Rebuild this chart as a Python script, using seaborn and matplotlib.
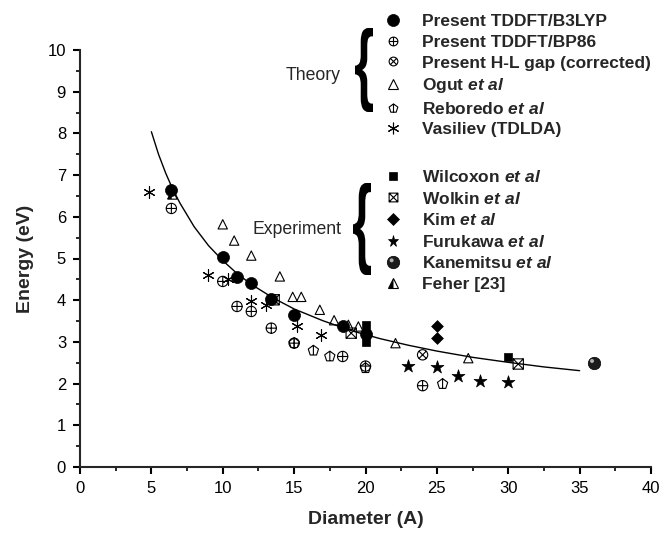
import numpy as np
import matplotlib
matplotlib.use("Agg")
import matplotlib.pyplot as plt
import seaborn as sns
from matplotlib.path import Path
from matplotlib.lines import Line2D
from matplotlib.legend_handler import HandlerTuple
from matplotlib.textpath import TextPath
from matplotlib.font_manager import FontProperties
from matplotlib.patches import PathPatch
from matplotlib.transforms import Affine2D, IdentityTransform

# values
b3lyp_d = [6.4, 10, 11, 12, 13.4, 15, 18.4, 20]
b3lyp_e = [6.65, 5.03, 4.55, 4.42, 4.04, 3.65, 3.39, 3.2]
bp86_d = [6.4, 10, 11, 12, 13.4, 15, 18.4, 20, 24]
bp86_e = [6.2, 4.45, 3.85, 3.73, 3.33, 2.97, 2.65, 2.42, 1.95]
hl_d = [24]
hl_e = [2.69]
ogut_d = [10, 10.8, 12, 14, 14.9, 15.5, 16.8, 17.8, 18.8, 19.5, 22.1, 27.2]
ogut_e = [5.82, 5.43, 5.07, 4.57, 4.08, 4.08, 3.77, 3.52, 3.41, 3.37, 2.97, 2.61]
rebo_d = [15, 16.35, 17.5, 20, 25.4]
rebo_e = [2.97, 2.79, 2.65, 2.37, 1.99]
vasi_d = [4.85, 9, 10.4, 12, 13, 15.2, 16.9]
vasi_e = [6.6, 4.6, 4.5, 3.97, 3.89, 3.38, 3.17]
wilc_d = [20, 20, 20, 30]
wilc_e = [3.0, 3.2, 3.4, 2.64]
wolk_d = [13.6, 19.0, 30.7]
wolk_e = [4.01, 3.21, 2.47]
kim_d = [25, 25]
kim_e = [3.39, 3.09]
furu_d = [23, 25, 26.5, 28, 30]
furu_e = [2.43, 2.41, 2.19, 2.07, 2.05]
kane_d = [36]
kane_e = [2.49]
feher_d = [6.43]
feher_e = [6.54]

# fitted curve, points
fit_d = [5, 5.5, 6, 6.5, 7, 8, 9, 10, 11, 12, 13.5, 15, 17, 19, 21, 23, 25, 27.5, 30, 32.5, 35]
fit_e = [8.04, 7.50, 7.05, 6.66, 6.33, 5.76, 5.31, 4.95, 4.64, 4.38, 4.06, 3.79, 3.51,
         3.27, 3.08, 2.92, 2.78, 2.63, 2.51, 2.40, 2.31]

theory_labels = ["Present TDDFT/B3LYP", "Present TDDFT/BP86", "Present H-L gap (corrected)",
                 r"Ogut $et\ al$", r"Reboredo $et\ al$", "Vasiliev (TDLDA)"]
expt_labels = [r"Wilcoxon $et\ al$", r"Wolkin $et\ al$", r"Kim $et\ al$",
               r"Furukawa $et\ al$", r"Kanemitsu $et\ al$", "Feher [23]"]

sns.set_style("ticks")
plt.rcParams["font.family"] = ["Liberation Sans", "DejaVu Sans"]
plt.rcParams["mathtext.fontset"] = "custom"
plt.rcParams["mathtext.it"] = "Liberation Sans:italic:bold"
plt.rcParams["mathtext.rm"] = "Liberation Sans:bold"

M, L = Path.MOVETO, Path.LINETO
k = 0.7071
circ = Path.unit_circle()
oplus = Path.make_compound_path(circ, Path([[-1, 0], [1, 0], [0, -1], [0, 1]], [M, L, M, L]))
otimes = Path.make_compound_path(circ, Path([[-k, -k], [k, k], [-k, k], [k, -k]], [M, L, M, L]))
square = Path([[-1, -1], [1, -1], [1, 1], [-1, 1], [-1, -1]], [M, L, L, L, Path.CLOSEPOLY])
sq_x = Path.make_compound_path(square, Path([[-1, -1], [1, 1], [-1, 1], [1, -1]], [M, L, M, L]))
pent_bar = Path.make_compound_path(Path.unit_regular_polygon(5), Path([[0, 1], [0, -0.81]], [M, L]))
half_tri = Path([[0, 1], [-1, -1], [0, -1], [0, 1]], [M, L, L, Path.CLOSEPOLY])
shine = Path.make_compound_path(Path([[-1, -1], [1, 1]], [M, M]),
                                Path.circle((-0.3, 0.35), 0.32))

# marker styles: (marker, size, face, edge, linewidth)
styles = {
    "b3lyp": ("o", 75, "black", "black", 0.5),
    "bp86": (oplus, 55, "none", "black", 0.8),
    "hl": (otimes, 55, "none", "black", 0.8),
    "ogut": ("^", 45, "none", "black", 0.8),
    "rebo": (pent_bar, 60, "none", "black", 0.8),
    "vasi": ((6, 2, 0), 70, "black", "black", 0.8),
    "wilc": ("s", 36, "black", "black", 0.5),
    "wolk": (sq_x, 55, "none", "black", 0.8),
    "kim": ("D", 36, "black", "black", 0.5),
    "furu": ("*", 95, "black", "black", 0.5),
    "kane": ("o", 80, "#1c1c1c", "black", 0.5),
    "kane_hi": (shine, 80, "#b0b0b0", "none", 0),
    "feher": ("^", 45, "white", "black", 0.8),
    "feher_hi": (half_tri, 45, "black", "none", 0),
}

fig = plt.figure(figsize=(6.62, 5.33), dpi=100)
ax = fig.add_axes([80 / 662, 66 / 533, 571 / 662, 417 / 533])

sns.lineplot(x=fit_d, y=fit_e, ax=ax, color="black", linewidth=1.0, estimator=None, sort=False)


def draw(xs, ys, key):
    mk, s, fc, ec, lw = styles[key]
    sns.scatterplot(x=xs, y=ys, ax=ax, marker=mk, s=s, color="black",
                    facecolor=fc, edgecolor=ec, linewidth=lw, zorder=3)


draw(ogut_d, ogut_e, "ogut")
draw(rebo_d, rebo_e, "rebo")
draw(bp86_d, bp86_e, "bp86")
draw(hl_d, hl_e, "hl")
draw(wolk_d, wolk_e, "wolk")
draw(vasi_d, vasi_e, "vasi")
draw(wilc_d, wilc_e, "wilc")
draw(kim_d, kim_e, "kim")
draw(furu_d, furu_e, "furu")
draw(feher_d, feher_e, "feher")
draw(feher_d, feher_e, "feher_hi")
draw(b3lyp_d, b3lyp_e, "b3lyp")
draw(kane_d, kane_e, "kane")
draw(kane_d, kane_e, "kane_hi")

ax.set_xlim(0, 40)
ax.set_ylim(0, 10)
ax.set_xticks(np.arange(0, 41, 5))
ax.set_xticks(np.arange(2.5, 40, 5), minor=True)
ax.set_yticks(np.arange(0, 11, 1))
ax.set_yticks(np.arange(0.5, 10, 1), minor=True)
sns.despine(ax=ax)
for sp in ax.spines.values():
    sp.set_linewidth(1.5)
ax.tick_params(which="major", direction="out", length=5, width=1.5, labelsize=12, pad=5,
               color="black", labelcolor="black")
ax.tick_params(which="minor", direction="out", length=3, width=1.2, color="black")
ax.set_xlabel("Diameter (A)", fontsize=14, fontweight="bold", labelpad=11)
ax.set_ylabel("Energy (eV)", fontsize=14, fontweight="bold", labelpad=10)


def handle(key, shrink=1.0):
    mk, s, fc, ec, lw = styles[key]
    return Line2D([], [], linestyle="none", marker=mk, markersize=np.sqrt(s) * shrink,
                  markerfacecolor=fc, markeredgecolor=ec, markeredgewidth=lw)


theory_handles = [handle("b3lyp"), handle("bp86", 0.85), handle("hl", 0.85),
                  handle("ogut"), handle("rebo", 0.85), handle("vasi")]
expt_handles = [handle("wilc"), handle("wolk", 0.85), handle("kim"), handle("furu", 0.85),
                (handle("kane"), handle("kane_hi")), (handle("feher"), handle("feher_hi"))]

leg_kw = dict(loc="upper left", frameon=False, handlelength=1.2, handletextpad=1.05,
              labelspacing=0.32, borderpad=0, borderaxespad=0,
              prop={"family": "Liberation Sans", "weight": "bold", "size": 12.5},
              handler_map={tuple: HandlerTuple(ndivide=1, pad=0)})
fig.legend(theory_handles, theory_labels, bbox_to_anchor=(383 / 662, 1 - 14 / 533), **leg_kw)
fig.legend(expt_handles, expt_labels, bbox_to_anchor=(383 / 662, 1 - 169 / 533), **leg_kw)

fig.text(341 / 662, 1 - 75 / 533, "Theory", ha="right", va="center", fontsize=12.7)
fig.text(342 / 662, 1 - 229 / 533, "Experiment", ha="right", va="center", fontsize=12.7)


def add_brace(left, top, width, height):
    tp = TextPath((0, 0), "{", size=100, prop=FontProperties(family="Liberation Sans", weight="bold"))
    ext = tp.get_extents()
    H = fig.bbox.height
    tr = (Affine2D().translate(-ext.x0, -ext.y0)
          .scale(width / ext.width, height / ext.height)
          .translate(left, H - top - height))
    fig.add_artist(PathPatch(tr.transform_path(tp), transform=IdentityTransform(),
                             facecolor="black", edgecolor="none"))


add_brace(355, 28, 18, 84)
add_brace(353, 183, 18, 92)

fig.savefig("out.png", dpi=100)
